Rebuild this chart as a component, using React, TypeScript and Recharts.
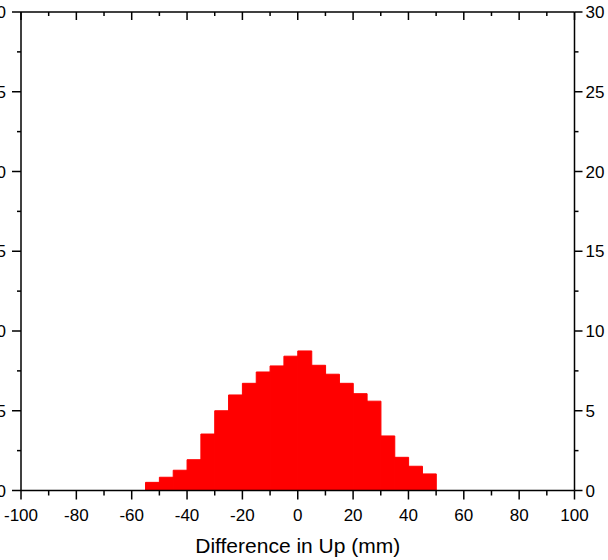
import React from 'react';
import { BarChart, Bar, XAxis, YAxis } from 'recharts';

const FONT = '"Liberation Sans", Arial, sans-serif';

// histogram: left edge of each 5 mm bin and its count
const binStarts = [-55, -50, -45, -40, -35, -30, -25, -20, -15, -10, -5, 0, 5, 10, 15, 20, 25, 30, 35, 40, 45];
const counts = [0.51, 0.83, 1.27, 1.93, 3.54, 5.0, 5.99, 6.72, 7.43, 7.81, 8.42, 8.75, 7.85, 7.29, 6.72, 6.07, 5.6, 3.42, 2.08, 1.52, 1.04];

const xTicks = [-100, -90, -80, -70, -60, -50, -40, -30, -20, -10, 0, 10, 20, 30, 40, 50, 60, 70, 80, 90, 100];
const yTicks = [0, 2.5, 5, 7.5, 10, 12.5, 15, 17.5, 20, 22.5, 25, 27.5, 30];

const BIN_WIDTH = 5;
const X_MIN = -100;
const X_MAX = 100;

// every bin across the axis, empty ones get 0
const allBins = Array.from({ length: (X_MAX - X_MIN) / BIN_WIDTH }, (_, i) => X_MIN + i * BIN_WIDTH);
const data = allBins.map(start => {
  const k = binStarts.indexOf(start);
  return { bin: start, count: k >= 0 ? counts[k] : 0 };
});

const isMajorX = (v: number) => v % 20 === 0;
const isMajorY = (v: number) => v % 5 === 0;

const BottomTick = ({ x, y, payload }: any) => {
  const major = isMajorX(payload.value);
  return (
    <g>
      <line x1={x} y1={y} x2={x} y2={y + (major ? 9 : 5)} stroke="#000" strokeWidth={1.5} />
      {major && (
        <text x={x} y={y + 30} textAnchor="middle" fontSize={17} fill="#000" fontFamily={FONT}>
          {payload.value}
        </text>
      )}
    </g>
  );
};

const TopTick = ({ x, y, payload }: any) => {
  const major = isMajorX(payload.value);
  return <line x1={x} y1={y} x2={x} y2={y + (major ? 8 : 4)} stroke="#000" strokeWidth={1.5} />;
};

const LeftTick = ({ x, y, payload }: any) => {
  const major = isMajorY(payload.value);
  return (
    <g>
      <line x1={x} y1={y} x2={x - (major ? 9 : 4)} y2={y} stroke="#000" strokeWidth={1.5} />
      {major && (
        <text x={x - 15} y={y + 6} textAnchor="end" fontSize={17} fill="#000" fontFamily={FONT}>
          {payload.value}
        </text>
      )}
    </g>
  );
};

const RightTick = ({ x, y, payload }: any) => {
  const major = isMajorY(payload.value);
  return (
    <g>
      <line x1={x} y1={y} x2={x + (major ? 8 : 4)} y2={y} stroke="#000" strokeWidth={1.5} />
      {major && (
        <text x={x + 11} y={y + 6} textAnchor="start" fontSize={17} fill="#000" fontFamily={FONT}>
          {payload.value}
        </text>
      )}
    </g>
  );
};

const axisLine = { stroke: '#000', strokeWidth: 1.5 };

export default function App() {
  return (
    <div style={{ position: 'absolute', left: 0, top: 0, background: '#fff' }}>
      <BarChart
        width={608}
        height={560}
        data={data}
        margin={{ top: 0, right: 0, bottom: 0, left: 0 }}
        barCategoryGap={0}
        barGap={0}
        style={{ fontFamily: FONT }}
      >
        <XAxis xAxisId="cat" dataKey="bin" type="category" hide height={0} />
        <XAxis
          xAxisId="num"
          dataKey="bin"
          type="number"
          domain={[X_MIN, X_MAX]}
          ticks={xTicks}
          interval={0}
          allowDataOverflow
          height={69.5}
          tickSize={0}
          tickMargin={0}
          tickLine={false}
          axisLine={axisLine}
          tick={(p: any) => <BottomTick {...p} />}
          label={{ value: 'Difference in Up (mm)', position: 'insideBottom', offset: 7, fill: '#000', fontSize: 21, fontFamily: FONT }}
        />
        <XAxis
          xAxisId="top"
          orientation="top"
          dataKey="bin"
          type="number"
          domain={[X_MIN, X_MAX]}
          ticks={xTicks}
          interval={0}
          allowDataOverflow
          height={12}
          tickSize={0}
          tickMargin={0}
          tickLine={false}
          axisLine={axisLine}
          tick={(p: any) => <TopTick {...p} />}
        />
        <YAxis
          yAxisId="left"
          domain={[0, 30]}
          ticks={yTicks}
          interval={0}
          allowDataOverflow
          width={21}
          tickSize={0}
          tickMargin={0}
          tickLine={false}
          axisLine={axisLine}
          tick={(p: any) => <LeftTick {...p} />}
        />
        <YAxis
          yAxisId="right"
          orientation="right"
          domain={[0, 30]}
          ticks={yTicks}
          interval={0}
          allowDataOverflow
          width={33.5}
          tickSize={0}
          tickMargin={0}
          tickLine={false}
          axisLine={axisLine}
          tick={(p: any) => <RightTick {...p} />}
        />
        <Bar
          dataKey="count"
          xAxisId="cat"
          yAxisId="left"
          fill="#ff0000"
          stroke="#ff0000"
          strokeWidth={1}
          isAnimationActive={false}
        />
      </BarChart>
    </div>
  );
}
